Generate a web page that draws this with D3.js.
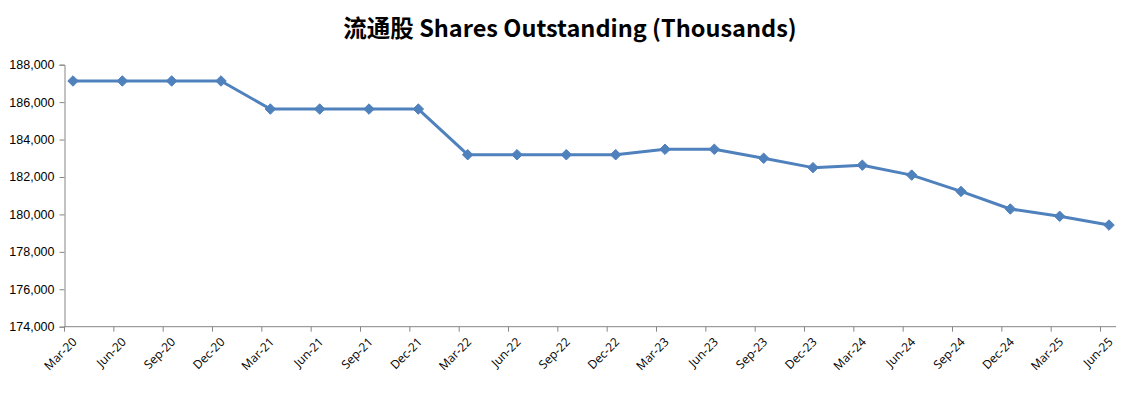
<!DOCTYPE html>
<html><head><meta charset="utf-8">
<script src="https://cdn.jsdelivr.net/npm/d3@7"></script>
<style>body{margin:0;background:#fff;} svg{display:block;}</style>
</head><body>
<script>
const categories = ["Mar-20","Jun-20","Sep-20","Dec-20","Mar-21","Jun-21","Sep-21","Dec-21","Mar-22","Jun-22","Sep-22","Dec-22","Mar-23","Jun-23","Sep-23","Dec-23","Mar-24","Jun-24","Sep-24","Dec-24","Mar-25","Jun-25"];
const shares = [187130,187130,187130,187130,185630,185630,185630,185630,183190,183190,183190,183190,183480,183480,183000,182500,182630,182100,181230,180290,179900,179430];
const yTicks = [174000,176000,178000,180000,182000,184000,186000,188000];
const title = "流通股 Shares Outstanding (Thousands)";

const W = 1135, H = 393;
const svg = d3.select("body").append("svg").attr("width", W).attr("height", H);
const x0 = 64.5, xEnd = 1116, yTop = 64.7, yBot = 326.7;
const x = d3.scalePoint().domain(categories).range([x0, 1100.5]);
const off = 8.5;
const y = d3.scaleLinear().domain([174000, 188000]).range([yBot, yTop]);

svg.append("text").attr("x", 570).attr("y", 37).attr("text-anchor", "middle")
  .attr("font-family", "'Noto Sans CJK SC', 'Open Sans', sans-serif").attr("font-weight", "bold")
  .attr("font-size", 23.5).attr("fill", "#000").text(title);

const axisColor = "#868686";
// Y axis
const yAxis = svg.append("g").attr("transform", `translate(${x0},0)`)
  .call(d3.axisLeft(y).tickValues(yTicks).tickSize(5).tickPadding(5).tickFormat(d3.format(",")));
yAxis.select(".domain").attr("stroke", axisColor);
yAxis.selectAll(".tick line").attr("stroke", axisColor);
yAxis.selectAll("text").attr("font-family", "'Liberation Sans', Arial, sans-serif").attr("font-size", 12.5).attr("fill", "#000");

// X axis
const xg = svg.append("g").attr("transform", `translate(0,${yBot})`);
xg.append("line").attr("x1", x0).attr("x2", xEnd).attr("y1", 0).attr("y2", 0).attr("stroke", axisColor);
xg.selectAll("line.t").data(categories).join("line").attr("class","t")
  .attr("x1", d => x(d)).attr("x2", d => x(d)).attr("y1", 0).attr("y2", 5).attr("stroke", axisColor);
xg.selectAll("text").data(categories).join("text")
  .attr("transform", d => `translate(${x(d) + 13},${16}) rotate(-45)`)
  .attr("text-anchor", "end")
  .attr("font-family", "'Open Sans', 'Liberation Sans', sans-serif").attr("font-size", 12).attr("fill", "#000")
  .text(d => d);

// Line
const line = d3.line().x((d, i) => x(categories[i]) + off).y(d => y(d));
svg.append("path").datum(shares).attr("d", line).attr("fill", "none")
  .attr("stroke", "#4F81BD").attr("stroke-width", 3).attr("stroke-linejoin", "round");
svg.selectAll("path.m").data(shares).join("path").attr("class", "m")
  .attr("d", d3.symbol().type(d3.symbolDiamond2).size(70))
  .attr("transform", (d, i) => `translate(${x(categories[i]) + off},${y(d)})`)
  .attr("fill", "#4F81BD").attr("stroke", "#4F81BD").attr("stroke-width", 1);
</script>
</body></html>
